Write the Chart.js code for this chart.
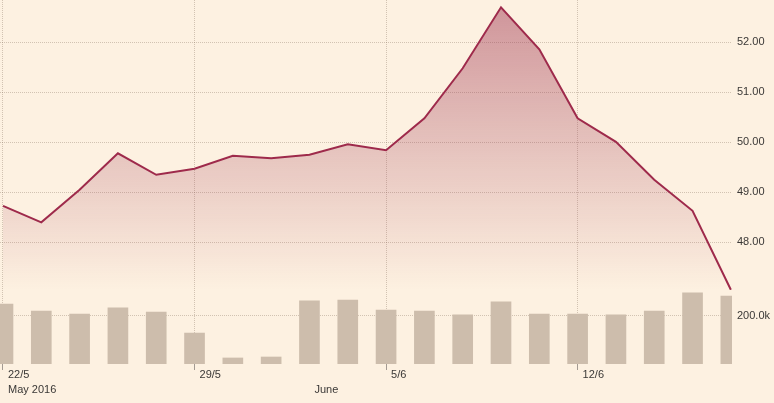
<!DOCTYPE html>
<html>
<head>
<meta charset="utf-8">
<script src="https://cdn.jsdelivr.net/npm/chart.js@4/dist/chart.umd.min.js"></script>
<style>
  html, body { margin: 0; padding: 0; background: #fdf1e1; }
  #wrap { width: 774px; height: 403px; }
</style>
</head>
<body>
<div id="wrap"><canvas id="myChart" width="774" height="403"></canvas></div>
<script>
// Trading days (Sunday to Thursday week)
const dates = ['22/5', '23/5', '24/5', '25/5', '26/5', '29/5', '30/5', '31/5', '1/6', '2/6',
               '5/6', '6/6', '7/6', '8/6', '9/6', '12/6', '13/6', '14/6', '15/6', '16/6'];

// Closing price
const prices = [48.73, 48.40, 49.05, 49.78, 49.35, 49.47, 49.73, 49.68, 49.75, 49.96,
                49.84, 50.48, 51.48, 52.70, 51.86, 50.48, 50.01, 49.25, 48.63, 47.05];

// Daily volume
const volumes = [248000, 219000, 207000, 232000, 215000, 128000, 25000, 29000, 261000, 265000,
                 223000, 219000, 203000, 257000, 207000, 207000, 203000, 219000, 294000, 281000];

// Tick labels
const weekTicks = ['22/5', '29/5', '5/6', '12/6'];
const monthTicks = ['22/5', '1/6'];
const monthNames = ['May 2016', 'June'];
const priceTicks = [48, 49, 50, 51, 52];
const volumeTicks = [200000];

// Colours
const lineColor = '#9e2a4b';
const barColor = '#cdbdac';
const gridColor = 'rgba(120, 100, 80, 0.32)';
const tickColor = '#a39a92';

Chart.defaults.font.family = 'Arial, "Liberation Sans", sans-serif';
Chart.defaults.font.size = 11;
Chart.defaults.color = '#3a3836';

const ctx = document.getElementById('myChart').getContext('2d');

// Is this x tick one of the weekly ticks (gets a grid line and a tick mark)?
function isWeekTick(context) {
  if (!context.tick) return false;
  return weekTicks.includes(dates[context.tick.value]);
}

const myChart = new Chart(ctx, {
  data: {
    datasets: [
      {
        type: 'line',
        label: 'Price',
        data: prices.map((p, i) => ({ x: i, y: p })),
        yAxisID: 'price',
        borderColor: lineColor,
        borderWidth: 2,
        pointRadius: 0,
        tension: 0,
        fill: 'start',
        backgroundColor: (context) => {
          const chart = context.chart;
          const area = chart.chartArea;
          if (!area) return 'transparent';
          // Fade the fill out before it reaches the volume bars
          const g = chart.ctx.createLinearGradient(0, area.top, 0, 290);
          g.addColorStop(0, 'rgba(160, 55, 82, 0.5)');
          g.addColorStop(1, 'rgba(160, 55, 82, 0)');
          return g;
        },
        order: 0
      },
      {
        type: 'bar',
        label: 'Volume',
        data: volumes.map((v, i) => ({ x: i, y: v })),
        yAxisID: 'volume',
        backgroundColor: barColor,
        barThickness: 20,
        order: 1
      }
    ]
  },
  options: {
    responsive: false,
    animation: false,
    layout: { padding: 0 },
    plugins: {
      legend: { display: false },
      tooltip: { enabled: false }
    },
    scales: {
      x: {
        type: 'linear',
        min: -0.078,
        max: 19.03,
        offset: false,
        border: { display: false, dash: [1, 1] },
        grid: {
          offset: false,
          color: (c) => isWeekTick(c) ? gridColor : 'transparent',
          tickColor: (c) => isWeekTick(c) ? tickColor : 'transparent',
          tickLength: 6,
          tickBorderDash: []
        },
        ticks: {
          autoSkip: false,
          maxRotation: 0,
          align: 'start',
          labelOffset: 5,
          padding: -2.5,
          font: { size: 11, lineHeight: 1.36 },
          callback: (value) => {
            const d = dates[value];
            const m = monthTicks.indexOf(d);
            return [weekTicks.includes(d) ? d : '', m >= 0 ? monthNames[m] : ''];
          }
        },
        afterBuildTicks: (scale) => {
          scale.ticks = dates
            .map((d, i) => i)
            .filter(i => weekTicks.includes(dates[i]) || monthTicks.includes(dates[i]))
            .map(i => ({ value: i }));
        },
        afterFit: (scale) => {
          scale.height = 39;
          scale.paddingLeft = 0;
          scale.paddingRight = 0;
        }
      },
      // Price on top, volume underneath, sharing the right-hand side
      price: {
        type: 'linear',
        position: 'right',
        stack: 'right',
        stackWeight: 290,
        weight: 0,
        min: 47.046,
        max: 52.846,
        border: { display: false, dash: [1, 1] },
        grid: { color: gridColor, drawTicks: false },
        ticks: {
          padding: 5,
          callback: (v) => v.toFixed(2)
        },
        afterBuildTicks: (scale) => {
          scale.ticks = priceTicks.map(v => ({ value: v }));
        },
        afterFit: (scale) => {
          scale.width = 42;
          scale.paddingTop = 0;
          scale.paddingBottom = 0;
        }
      },
      volume: {
        type: 'linear',
        position: 'right',
        stack: 'right',
        stackWeight: 74,
        weight: 1,
        min: 0,
        max: 306200,
        border: { display: false, dash: [1, 1] },
        grid: { color: gridColor, drawTicks: false },
        ticks: {
          padding: 5,
          callback: (v) => (v / 1000).toFixed(1) + 'k'
        },
        afterBuildTicks: (scale) => {
          scale.ticks = volumeTicks.map(v => ({ value: v }));
        },
        afterFit: (scale) => {
          scale.width = 42;
          scale.paddingTop = 0;
          scale.paddingBottom = 0;
        }
      }
    }
  }
});
</script>
</body>
</html>
